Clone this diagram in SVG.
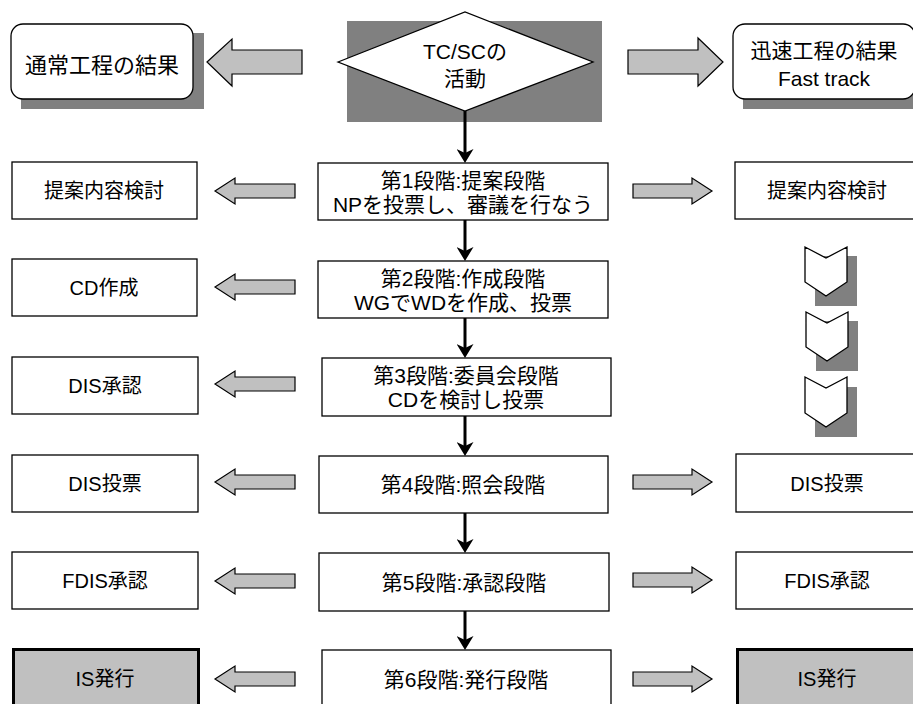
<svg xmlns="http://www.w3.org/2000/svg" width="913" height="704" viewBox="0 0 913 704">
<defs>
<style>
text{font-family:"Liberation Sans","Noto Sans CJK JP",sans-serif;font-size:20px;fill:#000;text-anchor:middle}
.t22{font-size:22px}
.t21{font-size:21px}
.box{fill:#fff;stroke:#000;stroke-width:1.3}
.fin{fill:#c0c0c0;stroke:#000;stroke-width:3}
.shadow{fill:#808080}
.garrow{fill:#c0c0c0;stroke:#000;stroke-width:1.2}
.flow{stroke:#000;stroke-width:3;fill:none;marker-end:url(#ah)}
</style>
<marker id="ah" markerUnits="userSpaceOnUse" viewBox="0 0 14 17" refX="9" refY="8.5" markerWidth="14" markerHeight="17" orient="auto">
<path d="M0,0 L14,8.5 L0,17 L4,8.5 Z" fill="#000"/>
</marker>
</defs>
<rect width="913" height="704" fill="#fff"/>

<g id="normal-result">
<rect class="shadow" x="21" y="33" width="183" height="76"/>
<rect class="box" x="11" y="24" width="182" height="75" rx="12"/>
<text class="t22" x="102" y="73">通常工程の結果</text>
</g>

<g id="tcsc">
<rect class="shadow" x="347" y="21" width="255" height="101"/>
<polygon class="box" points="338,62 465,12 593,62 465,111"/>
<text class="t21" x="465" y="59">TC/SCの</text>
<text class="t21" x="465" y="86">活動</text>
</g>

<g id="fast-result">
<rect class="shadow" x="743" y="33" width="183" height="76"/>
<rect class="box" x="733" y="24" width="182" height="75" rx="12"/>
<text class="t21" x="824" y="58">迅速工程の結果</text>
<text class="t21" x="824" y="86">Fast track</text>
</g>

<g id="stage1"><rect class="box" x="318" y="163" width="290" height="57"/><text class="t21" x="463" y="188">第1段階:提案段階</text><text class="t21" x="463" y="212">NPを投票し、審議を行なう</text></g>
<g id="stage2"><rect class="box" x="318" y="261" width="290" height="57"/><text class="t21" x="463" y="286">第2段階:作成段階</text><text class="t21" x="463" y="310">WGでWDを作成、投票</text></g>
<g id="stage3"><rect class="box" x="322" y="358" width="289" height="58"/><text class="t21" x="466" y="383">第3段階:委員会段階</text><text class="t21" x="466" y="407">CDを検討し投票</text></g>
<g id="stage4"><rect class="box" x="319" y="456" width="289" height="57"/><text class="t21" x="463" y="492">第4段階:照会段階</text></g>
<g id="stage5"><rect class="box" x="319" y="553" width="290" height="58"/><text class="t21" x="464" y="590">第5段階:承認段階</text></g>
<g id="stage6"><rect class="box" x="322" y="650" width="289" height="60"/><text class="t21" x="466" y="687">第6段階:発行段階</text></g>

<g id="l-proposal"><rect class="box" x="12" y="162" width="185" height="57"/><text x="104" y="198">提案内容検討</text></g>
<g id="l-cd"><rect class="box" x="12" y="259" width="185" height="57"/><text x="104" y="295">CD作成</text></g>
<g id="l-dis-approve"><rect class="box" x="12" y="357" width="186" height="57"/><text x="105" y="393">DIS承認</text></g>
<g id="l-dis-vote"><rect class="box" x="12" y="455" width="186" height="57"/><text x="105" y="491">DIS投票</text></g>
<g id="l-fdis"><rect class="box" x="12" y="552" width="186" height="57"/><text x="105" y="588">FDIS承認</text></g>
<g id="l-is"><rect class="fin" x="13.5" y="649.5" width="185" height="60"/><text x="105" y="686">IS発行</text></g>

<g id="r-proposal"><rect class="box" x="735" y="162" width="184" height="57"/><text x="827" y="198">提案内容検討</text></g>
<g id="r-dis-vote"><rect class="box" x="736" y="454" width="184" height="58"/><text x="827" y="491">DIS投票</text></g>
<g id="r-fdis"><rect class="box" x="736" y="552" width="184" height="57"/><text x="827" y="588">FDIS承認</text></g>
<g id="r-is"><rect class="fin" x="737.5" y="649.5" width="184" height="60"/><text x="827" y="686">IS発行</text></g>

<g id="chevrons">
<rect class="shadow" x="815" y="256" width="42" height="50"/>
<polygon class="box" points="805,247 826,258 847,247 847,282 826,296 805,282"/>
<rect class="shadow" x="816" y="321" width="42" height="50"/>
<polygon class="box" points="806,312 827,323 848,312 848,347 827,361 806,347"/>
<rect class="shadow" x="815" y="387" width="42" height="50"/>
<polygon class="box" points="805,377 826,388 847,377 847,413 826,427 805,413"/>
</g>

<g id="connectors">
<line class="flow" x1="465" y1="111" x2="465" y2="158"/>
<line class="flow" x1="465" y1="220" x2="465" y2="256"/>
<line class="flow" x1="465" y1="318" x2="465" y2="353"/>
<line class="flow" x1="465" y1="416" x2="465" y2="451"/>
<line class="flow" x1="465" y1="513" x2="465" y2="548"/>
<line class="flow" x1="465" y1="611" x2="465" y2="645"/>

<polygon class="garrow" points="207,62 232,39 232,50 302,50 302,74 232,74 232,86"/>
<polygon class="garrow" points="628,50 698,50 698,38 723,62 698,86 698,74 628,74"/>

<polygon class="garrow" points="215,191 235,178 235,184 295,184 295,198 235,198 235,204"/>
<polygon class="garrow" points="215,287 235,274 235,280 295,280 295,294 235,294 235,300"/>
<polygon class="garrow" points="215,384 235,371 235,377 295,377 295,391 235,391 235,397"/>
<polygon class="garrow" points="215,482 235,469 235,475 295,475 295,489 235,489 235,495"/>
<polygon class="garrow" points="215,581 235,568 235,574 295,574 295,588 235,588 235,594"/>
<polygon class="garrow" points="215,679 235,666 235,672 295,672 295,686 235,686 235,692"/>

<polygon class="garrow" points="633,184 692,184 692,178 712,191 692,204 692,198 633,198"/>
<polygon class="garrow" points="633,475 692,475 692,469 712,482 692,495 692,489 633,489"/>
<polygon class="garrow" points="633,573 692,573 692,567 712,580 692,593 692,587 633,587"/>
<polygon class="garrow" points="633,672 692,672 692,666 712,679 692,692 692,686 633,686"/>
</g>
</svg>
